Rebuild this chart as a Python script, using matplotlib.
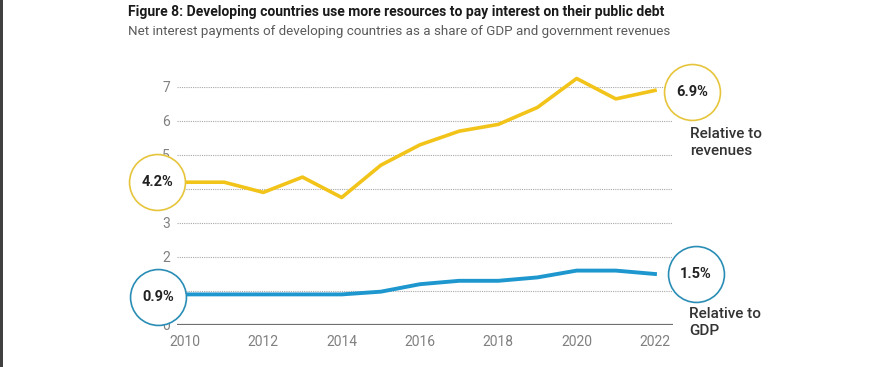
import matplotlib
matplotlib.use('Agg')
import matplotlib.pyplot as plt

plt.rcParams['font.family'] = ['Roboto', 'DejaVu Sans']

years = list(range(2010, 2023))
revenues = [4.2, 4.2, 3.9, 4.35, 3.75, 4.7, 5.3, 5.7, 5.9, 6.4, 7.25, 6.65, 6.9]
gdp = [0.9, 0.9, 0.9, 0.9, 0.9, 0.98, 1.2, 1.3, 1.3, 1.4, 1.6, 1.6, 1.5]
grid_levels = [1, 2, 3, 4, 5, 6, 7]
yticks = [0, 2, 3, 5, 6, 7]
xticks = [2010, 2012, 2014, 2016, 2018, 2020, 2022]

yellow = '#F2C41A'
blue = '#1E97CF'

fig = plt.figure(figsize=(8.91, 3.67), dpi=100)
ax = fig.add_axes([177/891, 42/367, 496/891, 238/367])

ax.set_xlim(2009.796, 2022.46)
ax.set_ylim(0, 7)

# dotted gridlines
for t in grid_levels:
    ax.axhline(t, color='#a8a8a8', lw=0.8, ls=(0, (1, 1)), zorder=1)
ax.axhline(0, color='#707070', lw=1.6, zorder=2)

ax.plot(years, revenues, color=yellow, lw=2.6, zorder=3, clip_on=False)
ax.plot(years, gdp, color=blue, lw=2.8, zorder=3, clip_on=False)

for s in ax.spines.values():
    s.set_visible(False)
ax.set_yticks(yticks)
ax.set_xticks(xticks)
ax.tick_params(length=0, colors='#808080', labelsize=10)
ax.tick_params(axis='y', pad=5)
ax.tick_params(axis='x', pad=7)

# end-point bubbles
bubbles = [
    (years[0] - 0.71, revenues[0], '4.2%', '#E6C53C'),
    (years[-1] + 0.94, revenues[-1] - 0.04, '6.9%', '#E6C53C'),
    (years[0] - 0.69, gdp[0] - 0.08, '0.9%', '#2A8DB5'),
    (years[-1] + 1.04, gdp[-1], '1.5%', '#2A8DB5'),
]
for bx, by, txt, ec in bubbles:
    ax.scatter([bx], [by], s=1620, facecolor='white', edgecolor=ec, lw=1.2,
               zorder=5, clip_on=False)
    ax.text(bx, by, txt, ha='center', va='center', fontsize=10.5,
            fontweight='bold', color='#222222', zorder=6, clip_on=False)

ax.text(2022.9, 5.82, 'Relative to\nrevenues', ha='left', va='top', fontsize=11,
        fontweight='medium', color='#333333', linespacing=1.3, clip_on=False)
ax.text(2022.87, 0.53, 'Relative to\nGDP', ha='left', va='top', fontsize=11,
        fontweight='medium', color='#333333', linespacing=1.3, clip_on=False)

fig.text(128/891, 1 - 12/367, 'Figure 8: Developing countries use more resources to pay interest on their public debt',
         ha='left', va='center', fontsize=10, fontweight='bold', color='#1a1a1a')
fig.text(128/891, 1 - 32/367, 'Net interest payments of developing countries as a share of GDP and government revenues',
         ha='left', va='center', fontsize=9.6, color='#5a5a5a')

# dark strip at the left edge
fig.add_artist(plt.Rectangle((0, 0), 3/891, 1, transform=fig.transFigure,
                             color='#404040', lw=0))

fig.savefig('out.png', dpi=100)
